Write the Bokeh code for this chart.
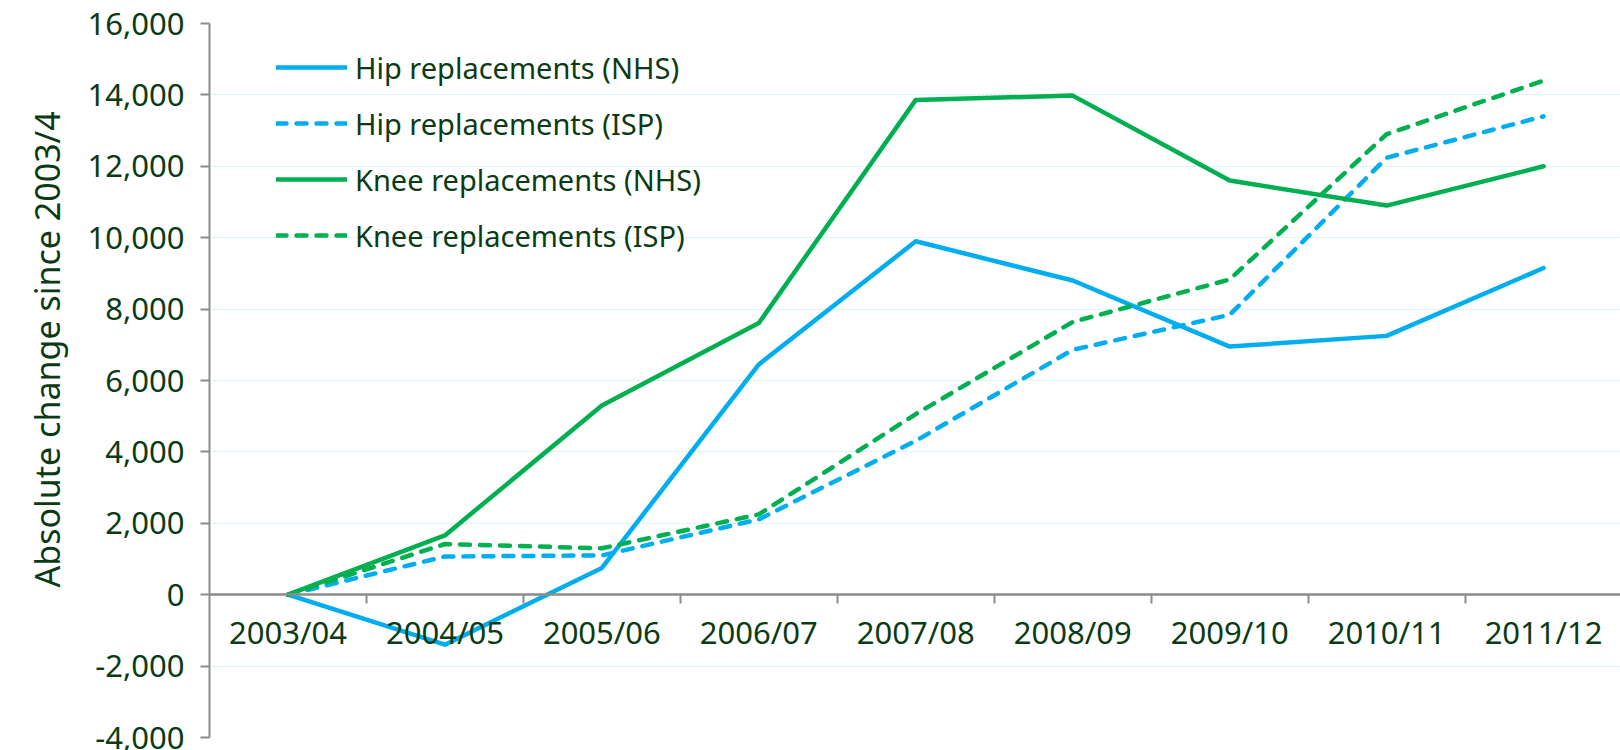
from bokeh.plotting import figure
from bokeh.models import (FixedTicker, LinearAxis, Range1d, NumeralTickFormatter, Title)
from bokeh.embed import file_html
from bokeh.resources import INLINE

years = ["2003/04", "2004/05", "2005/06", "2006/07", "2007/08",
         "2008/09", "2009/10", "2010/11", "2011/12"]
hip_nhs = [0, -1400, 750, 6450, 9900, 8800, 6950, 7250, 9150]
hip_isp = [0, 1070, 1100, 2110, 4310, 6860, 7840, 12240, 13400]
knee_nhs = [0, 1660, 5300, 7610, 13860, 13980, 11600, 10900, 12000]
knee_isp = [0, 1420, 1300, 2250, 5060, 7640, 8830, 12900, 14400]
y_ticks = [-4000, -2000, 0, 2000, 4000, 6000, 8000, 10000, 12000, 14000, 16000]

BLUE = "#00aeef"
GREEN = "#00b050"
TEXT = "#0b3b14"
AXIS = "#8c8c8c"
FONT = "Noto Sans"
FS_TICK = "31px"
FS = "29px"
FS_TITLE = "34px"

idx = list(range(len(years)))

p = figure(width=1620, height=750, x_range=Range1d(-0.5, 8.49),
           y_range=Range1d(-4000, 16000), output_backend="svg",
           toolbar_location=None, x_axis_location=None, y_axis_location="left",
           min_border_left=209, min_border_top=23, min_border_bottom=13,
           min_border_right=0)
p.outline_line_color = None
p.background_fill_color = "white"
p.border_fill_color = "white"

# y axis
ya = p.yaxis[0]
ya.ticker = FixedTicker(ticks=y_ticks)
ya.formatter = NumeralTickFormatter(format="0,0")
ya.axis_line_color = AXIS
ya.axis_line_width = 2
ya.major_tick_line_color = AXIS
ya.major_tick_line_width = 2
ya.major_tick_out = 9
ya.major_tick_in = 0
ya.minor_tick_line_color = None
ya.major_label_standoff = 16
ya.major_label_text_font = FONT
ya.major_label_text_font_size = FS_TICK
ya.major_label_text_color = TEXT

p.xgrid.visible = False
p.ygrid.ticker = FixedTicker(ticks=y_ticks)
p.ygrid.grid_line_color = "#c4e7f7"
p.ygrid.grid_line_dash = "2 2"
p.ygrid.grid_line_width = 1

# x axis with labels at category centres (at y = 0)
xa = LinearAxis(ticker=FixedTicker(ticks=idx), fixed_location=0,
                major_label_overrides={i: y for i, y in enumerate(years)})
xa.axis_line_color = AXIS
xa.axis_line_width = 2
xa.major_tick_line_color = None
xa.major_tick_out = 0
xa.major_tick_in = 0
xa.minor_tick_line_color = None
xa.major_label_standoff = 16
xa.major_label_text_font = FONT
xa.major_label_text_font_size = FS_TICK
xa.major_label_text_color = TEXT
p.add_layout(xa, "below")

# boundary ticks between categories
xb = LinearAxis(ticker=FixedTicker(ticks=[i + 0.5 for i in idx]), fixed_location=0)
xb.axis_line_color = AXIS
xb.axis_line_width = 2
xb.major_tick_line_color = AXIS
xb.major_tick_line_width = 2
xb.major_tick_out = 9
xb.major_tick_in = 0
xb.minor_tick_line_color = None
xb.major_label_text_color = None
xb.major_label_text_font_size = "1px"
p.add_layout(xb, "below")

series = [
    ("Hip replacements (NHS)", hip_nhs, BLUE, "solid"),
    ("Hip replacements (ISP)", hip_isp, BLUE, "10 10"),
    ("Knee replacements (NHS)", knee_nhs, GREEN, "solid"),
    ("Knee replacements (ISP)", knee_isp, GREEN, "10 10"),
]
for name, vals, col, dash in series:
    p.line(idx, vals, line_color=col, line_width=4.5, line_dash=dash,
           line_cap="round", line_join="round", legend_label=name)

lg = p.legend[0]
lg.location = (67, 482)
lg.border_line_color = None
lg.background_fill_alpha = 0
lg.padding = 0
lg.margin = 0
lg.spacing = 16
lg.glyph_width = 71
lg.glyph_height = 40
lg.label_height = 40
lg.label_standoff = 8
lg.label_text_font = FONT
lg.label_text_font_size = FS
lg.label_text_color = TEXT

p.add_layout(Title(text="Absolute change since 2003/4", align="left", offset=150,
                   standoff=29, text_font=FONT, text_font_size=FS_TITLE,
                   text_font_style="normal", text_color=TEXT), "left")

open("out.html", "w").write(file_html(p, INLINE))
